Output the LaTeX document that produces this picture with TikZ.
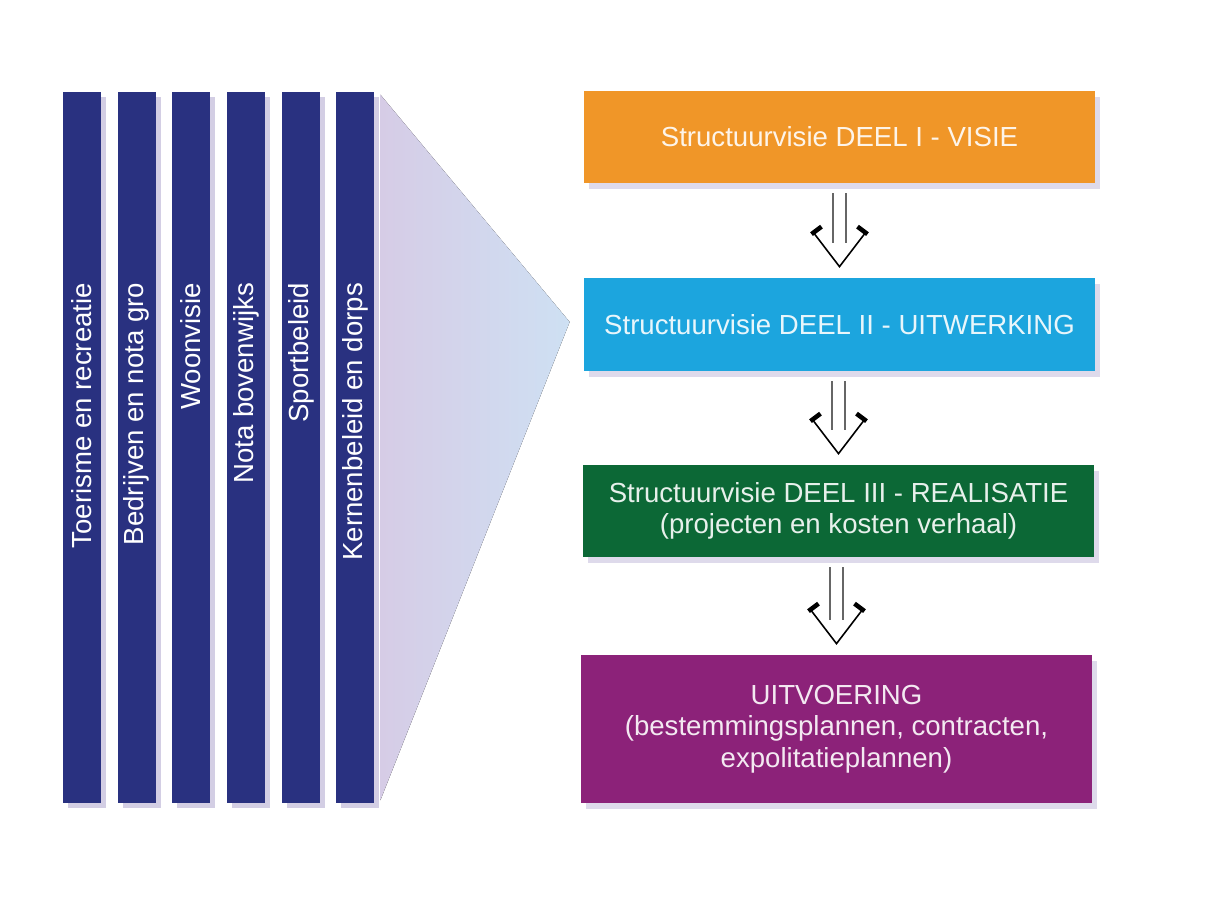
\documentclass[tikz,border=0pt]{standalone}
\usepackage{fontspec}
\setmainfont{Liberation Sans}
\usetikzlibrary{calc}
\usetikzlibrary{shadows}
\definecolor{navy}{RGB}{41,49,128}
\definecolor{oranje}{RGB}{240,150,40}
\definecolor{hemel}{RGB}{28,165,222}
\definecolor{groen}{RGB}{12,104,54}
\definecolor{paars}{RGB}{140,34,121}
\definecolor{schaduw}{RGB}{200,194,222}
\definecolor{lila}{RGB}{214,204,230}
\definecolor{ijsblauw}{RGB}{206,224,243}
\tikzset{
	balk/.style={fill=navy, minimum width=0.76cm, minimum height=14.22cm, inner sep=0pt,
		drop shadow={shadow xshift=0.1cm, shadow yshift=-0.1cm, fill=schaduw, opacity=0.8}},
	balktekst/.style={rotate=90, anchor=east, inner sep=0pt, text=white,
		font=\fontsize{15.7}{17.8}\selectfont},
	deel/.style={minimum width=10.22cm, inner sep=0pt, align=center, text=white, text opacity=0.9,
		font=\fontsize{15.7}{17.8}\selectfont,
		drop shadow={shadow xshift=0.1cm, shadow yshift=-0.12cm, fill=schaduw, opacity=0.6}},
	schacht/.style={line width=0.7pt, draw=black!60},
	punt/.style={line width=0.9pt, line join=miter},
	kapje/.style={line width=2.6pt}
}
\newcommand{\beleid}[3] % name, x in cm, text
{
	\node[balk] (#1) at (#2, 9.19) {};
	\node[balktekst] (#1tekst) at ($(#1.north)+(0,-3.82)$) {#3};
}
\newcommand{\stap}[2] % from node, to node
{
	\coordinate (#1top) at ($(#1.south)+(0,-0.2)$);
	\coordinate (#1punt) at ($(#2.north)+(0,0.22)$);
	% double shaft
	\draw[schacht] ($(#1punt |- #1top)+(-0.13,0)$) -- ($(#1punt)+(-0.13,0.48)$);
	\draw[schacht] ($(#1punt |- #1top)+(0.13,0)$) -- ($(#1punt)+(0.13,0.48)$);
	% open head
	\draw[punt] ($(#1punt)+(-0.52,0.68)$) -- (#1punt) -- ($(#1punt)+(0.52,0.68)$);
	\draw[kapje] ($(#1punt)+(-0.56,0.65)$) -- ++(0.2,0.15);
	\draw[kapje] ($(#1punt)+(0.56,0.65)$) -- ++(-0.2,0.15);
}
\begin{document}
\begin{tikzpicture}
	% 1206 x 907 px, 1 px = 0.2 mm
	\useasboundingbox (0,0) rectangle (24.12,18.14);
	\fill[white] (0,0) rectangle (24.12,18.14);

	% the four parts
	\node[deel, fill=oranje, minimum height=1.84cm] (visie) at (16.79,15.40) {Structuurvisie DEEL I - VISIE};
	\node[deel, fill=hemel, minimum height=1.86cm] (uitwerking) at (16.79,11.65) {Structuurvisie DEEL II - UITWERKING};
	\node[deel, fill=groen, minimum height=1.84cm] (realisatie) at (16.77,7.92) {Structuurvisie DEEL III - REALISATIE\\(projecten en kosten verhaal)};
	\node[deel, fill=paars, minimum height=2.96cm] (uitvoering) at (16.73,3.56) {UITVOERING\\(bestemmingsplannen, contracten,\\expolitatieplannen)};

	% policy notes
	\beleid{toerisme}{1.64}{Toerisme en recreatie};
	\beleid{bedrijven}{2.73}{Bedrijven en nota gro};
	\beleid{wonen}{3.82}{Woonvisie};
	\beleid{bovenwijks}{4.92}{Nota bovenwijks};
	\beleid{sport}{6.02}{Sportbeleid};
	\beleid{kernen}{7.10}{Kernenbeleid en dorps};

	% funnel
	\fill[left color=lila, right color=ijsblauw]
		($(kernen.north east)+(0.12,-0.06)$) -- ($(uitwerking.west)+(-0.28,0.05)$)
		-- ($(kernen.south east)+(0.12,0.06)$) -- cycle;

	% steps
	\stap{visie}{uitwerking};
	\stap{uitwerking}{realisatie};
	\stap{realisatie}{uitvoering};
\end{tikzpicture}
\end{document}
